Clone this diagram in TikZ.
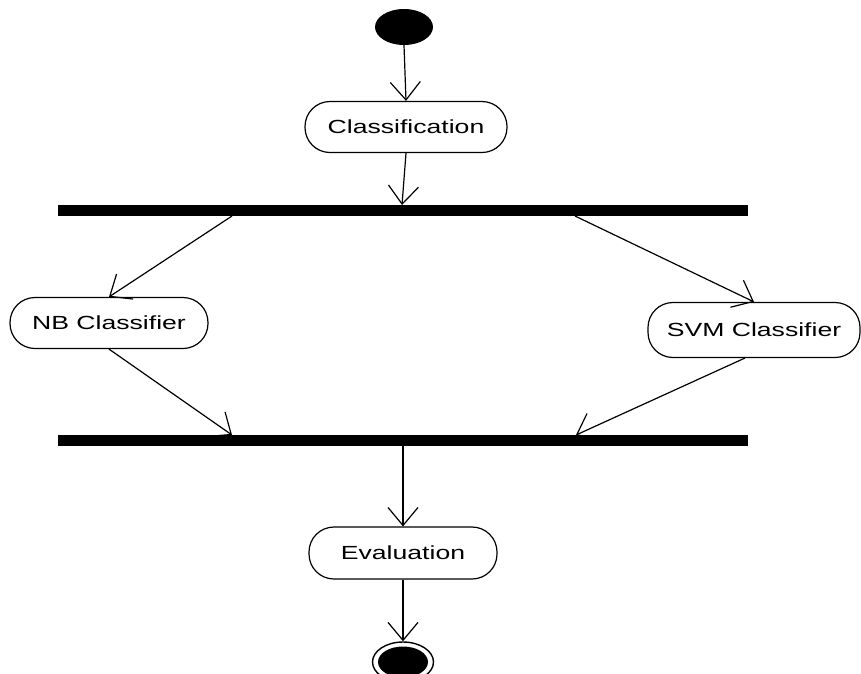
\documentclass[tikz,border=0pt]{standalone}
\usepackage{fontspec}
\newfontfamily\lblfont[FakeStretch=1.4]{Liberation Sans}
\usetikzlibrary{arrows.meta,shapes.geometric}

\tikzset{
  activity/.style={draw, line width=1.2pt, rounded corners=25pt, inner sep=0pt,
    font=\lblfont\fontsize{19}{22}\selectfont, minimum height=51pt},
  syncbar/.style={fill=black, draw=none, inner sep=0pt,
    minimum width=690pt, minimum height=11pt},
  flow/.style={line width=1.2pt, -{Straight Barb[length=18pt,width=30pt,line width=1.2pt]}},
}

\begin{document}
\begin{tikzpicture}[x=1pt, y=-1pt]
  \useasboundingbox (0,0) rectangle (861,673);
  \clip (0,0) rectangle (861,673);

  % initial and final states
  \node[ellipse, fill=black, minimum width=58pt, minimum height=36pt, inner sep=0pt] (start) at (404,27) {};
  \node[ellipse, draw, line width=1.4pt, minimum width=61pt, minimum height=40pt, inner sep=0pt] (final) at (403,662) {};
  \node[ellipse, fill=black, minimum width=50pt, minimum height=31pt, inner sep=0pt] (finalcore) at (403,662) {};

  % activities
  \node[activity, minimum width=202pt] (class) at (406,127) {Classification};
  \node[activity, minimum width=198pt] (nb)    at (109,323) {NB Classifier};
  \node[activity, minimum width=212pt, minimum height=55pt] (svm) at (754,330) {SVM Classifier};
  \node[activity, minimum width=188pt, minimum height=52pt] (eval) at (403,553) {Evaluation};

  % fork and join bars
  \node[syncbar] (fork) at (403,210.5) {};
  \node[syncbar] (join) at (403,440.5) {};

  \coordinate (forkL) at (232,216);
  \coordinate (forkR) at (575,216);
  \coordinate (joinL) at (232,435);
  \coordinate (joinR) at (576,435);
  \coordinate (forkM) at (402,205);
  \coordinate (joinM) at (403,446);
  \coordinate (svmout) at (745,358);

  % control flow
  \draw[flow] (start.south) -- (class.north);
  \draw[flow] (class.south) -- (forkM);
  \draw[flow] (forkL) -- (nb.north);
  \draw[flow] (forkR) -- (svm.north);
  \draw[flow] (nb.south) -- (joinL);
  \draw[flow] (svmout) -- (joinR);
  \draw[flow] (joinM) -- (eval.north);
  \draw[flow] (eval.south) -- (final.north);
\end{tikzpicture}
\end{document}
